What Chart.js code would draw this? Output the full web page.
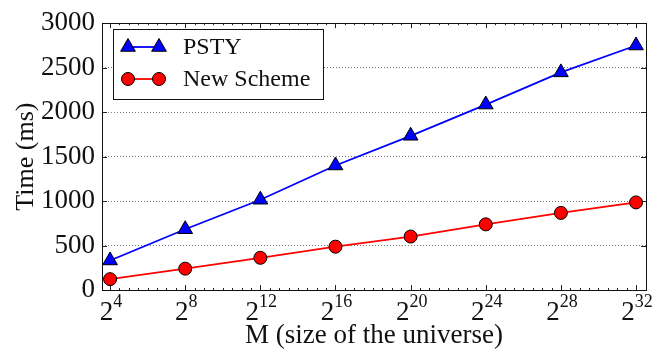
<!DOCTYPE html>
<html>
<head>
<meta charset="utf-8">
<script src="https://cdn.jsdelivr.net/npm/chart.js@4/dist/chart.umd.min.js"></script>
<style>
  html, body { margin: 0; padding: 0; background: #fff; }
  #chart { display: block; }
</style>
</head>
<body>
<canvas id="chart" width="664" height="354"></canvas>
<script>
// x = exponent of M (M = 2^x)
const exponents = [4, 8, 12, 16, 20, 24, 28, 32]
const psty = [332, 683, 1015, 1400, 1734, 2085, 2447, 2749]
const newScheme = [122, 240, 362, 487, 601, 738, 867, 985]
const yTicks = [0, 500, 1000, 1500, 2000, 2500, 3000]
const seriesNames = ['PSTY', 'New Scheme']

const serif = '"Liberation Serif", "DejaVu Serif", serif'

const toPoints = vals => vals.map((v, i) => ({ x: exponents[i], y: v }))

// frame, inward ticks and the 2^n labels
const framePlugin = {
    id: 'frame',
    beforeDatasetsDraw(chart) {
        const { ctx, chartArea: a, scales } = chart
        ctx.save()
        ctx.strokeStyle = '#222'
        ctx.lineWidth = 1
        ctx.beginPath()
        // minor x ticks
        for (let v = 4; v <= 32; v += 0.5) {
            const px = Math.round(scales.x.getPixelForValue(v)) + 0.5
            const len = exponents.includes(v) ? 5 : 2
            ctx.moveTo(px, a.bottom); ctx.lineTo(px, a.bottom - len)
            ctx.moveTo(px, a.top); ctx.lineTo(px, a.top + len)
        }
        yTicks.forEach(v => {
            const py = Math.round(scales.y.getPixelForValue(v)) + 0.5
            ctx.moveTo(a.left, py); ctx.lineTo(a.left + 5, py)
            ctx.moveTo(a.right, py); ctx.lineTo(a.right - 5, py)
        })
        ctx.stroke()
        ctx.strokeStyle = '#111'
        ctx.strokeRect(Math.round(a.left) + 0.5, Math.round(a.top) + 0.5,
            Math.round(a.right - a.left), Math.round(a.bottom - a.top))

        ctx.fillStyle = '#111'
        ctx.textBaseline = 'alphabetic'
        exponents.forEach(e => {
            const px = scales.x.getPixelForValue(e)
            ctx.font = '27px ' + serif
            const wb = ctx.measureText('2').width
            ctx.font = '18px ' + serif
            const we = ctx.measureText(String(e)).width
            const x0 = px - (wb + we) / 2 + 1
            ctx.font = '27px ' + serif
            ctx.textAlign = 'left'
            ctx.fillText('2', x0, 320)
            ctx.font = '18px ' + serif
            ctx.fillText(String(e), x0 + wb, 307)
        })
        ctx.restore()
    },
    afterDraw(chart) {
        const { ctx } = chart
        ctx.save()
        ctx.fillStyle = '#fff'
        ctx.fillRect(113.5, 29.5, 210, 70)
        ctx.strokeStyle = '#111'
        ctx.lineWidth = 1
        ctx.strokeRect(113.5, 29.5, 210, 70)
        const rows = [47, 79]
        chart.data.datasets.forEach((ds, i) => {
            const y = rows[i]
            ctx.strokeStyle = ds.borderColor
            ctx.lineWidth = ds.borderWidth
            ctx.beginPath(); ctx.moveTo(128, y); ctx.lineTo(159, y); ctx.stroke()
            ;[128, 159].forEach(x => {
                ctx.fillStyle = ds.pointBackgroundColor
                ctx.strokeStyle = '#000'
                ctx.lineWidth = 1
                ctx.beginPath()
                if (ds.pointStyle === 'triangle') {
                    const r = ds.pointRadius
                    ctx.moveTo(x, y - r)
                    ctx.lineTo(x + r * 0.866, y + r / 2)
                    ctx.lineTo(x - r * 0.866, y + r / 2)
                    ctx.closePath()
                } else {
                    ctx.arc(x, y, ds.pointRadius, 0, Math.PI * 2)
                }
                ctx.fill(); ctx.stroke()
            })
            ctx.fillStyle = '#111'
            ctx.font = '24px ' + serif
            ctx.textAlign = 'left'
            ctx.textBaseline = 'middle'
            ctx.fillText(ds.label, 183, y + 1)
        })
        ctx.restore()
    }
}

new Chart(document.getElementById('chart').getContext('2d'), {
    type: 'line',
    data: {
        datasets: [{
            label: seriesNames[0],
            data: toPoints(psty),
            borderColor: '#0000ff',
            borderWidth: 1.8,
            pointStyle: 'triangle',
            pointRadius: 8.5,
            pointBackgroundColor: '#0000ff',
            pointBorderColor: '#000',
            pointBorderWidth: 1,
            tension: 0
        }, {
            label: seriesNames[1],
            data: toPoints(newScheme),
            borderColor: '#ff0000',
            borderWidth: 1.8,
            pointStyle: 'circle',
            pointRadius: 6.5,
            pointBackgroundColor: '#ff0000',
            pointBorderColor: '#000',
            pointBorderWidth: 1,
            tension: 0
        }]
    },
    options: {
        responsive: false,
        animation: false,
        events: [],
        layout: { padding: { top: 19, right: 18, left: 0, bottom: 0 } },
        plugins: { legend: { display: false }, tooltip: { enabled: false } },
        scales: {
            x: {
                type: 'linear',
                min: 3.57,
                max: 32.53,
                afterBuildTicks: s => { s.ticks = exponents.map(v => ({ value: v })) },
                afterFit: s => { s.height = 64 },
                ticks: { display: false },
                grid: { display: false },
                border: { display: false },
                title: {
                    display: true,
                    text: 'M (size of the universe)',
                    color: '#111',
                    font: { family: serif, size: 27 },
                    padding: { top: 0, bottom: 2 }
                }
            },
            y: {
                min: 0,
                max: 3000,
                afterBuildTicks: s => { s.ticks = yTicks.map(v => ({ value: v })) },
                afterFit: s => { s.width = 102 },
                ticks: {
                    color: '#111',
                    padding: 7,
                    font: { family: serif, size: 27 },
                    callback: v => String(v)
                },
                grid: {
                    drawTicks: false,
                    color: ctx => (ctx.tick && (ctx.tick.value === 0 || ctx.tick.value === 3000)) ? 'rgba(0,0,0,0)' : '#777',
                    lineWidth: 1
                },
                border: { display: false, dash: [1, 2] },
                title: {
                    display: true,
                    text: 'Time (ms)',
                    color: '#111',
                    font: { family: serif, size: 26 },
                    padding: { top: 11, bottom: 0 }
                }
            }
        }
    },
    plugins: [framePlugin]
})
</script>
</body>
</html>
